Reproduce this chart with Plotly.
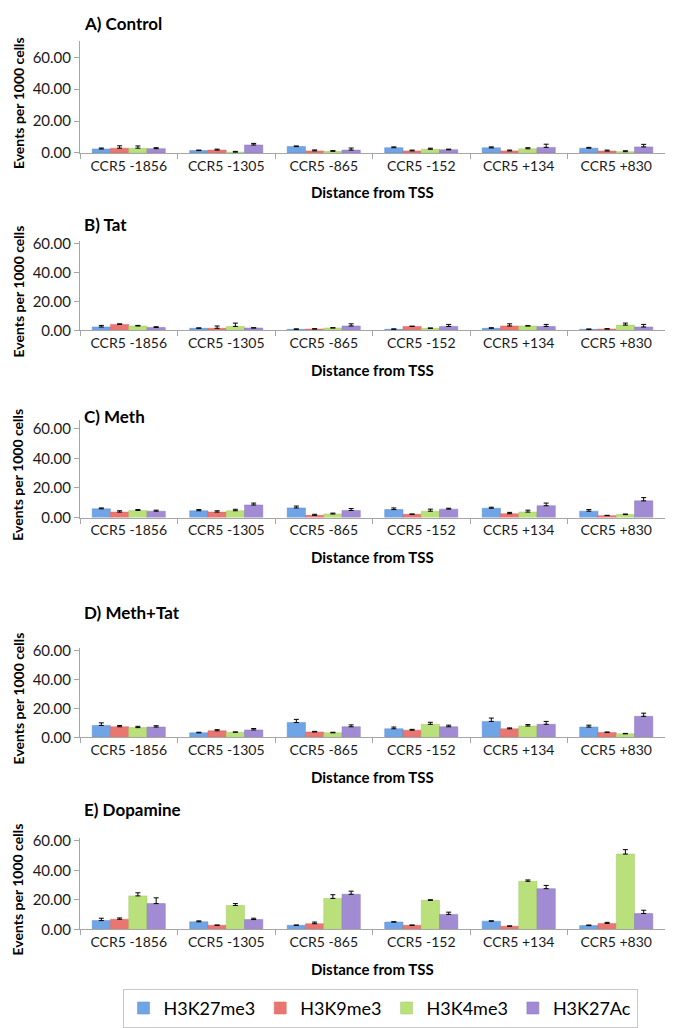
import plotly.graph_objects as go

W, H = 678, 1028

categories = ["CCR5 -1856", "CCR5 -1305", "CCR5 -865", "CCR5 -152", "CCR5 +134", "CCR5 +830"]
series_names = ["H3K27me3", "H3K9me3", "H3K4me3", "H3K27Ac"]
panel_titles = ["A) Control", "B) Tat", "C) Meth", "D) Meth+Tat", "E) Dopamine"]

# values per panel, per series (H3K27me3, H3K9me3, H3K4me3, H3K27Ac)
control_vals = [
    [2.5, 1.5, 4.0, 3.3, 3.2, 3.0],
    [3.0, 1.8, 1.3, 1.3, 1.3, 1.2],
    [3.0, 0.5, 1.0, 2.3, 2.6, 0.8],
    [2.7, 5.0, 1.8, 2.0, 3.5, 3.8],
]
control_err = [
    [0.6, 0.3, 0.4, 0.5, 0.6, 0.5],
    [1.5, 0.6, 0.6, 0.5, 0.5, 0.6],
    [1.4, 0.5, 0.5, 0.7, 0.7, 0.6],
    [0.6, 1.0, 1.3, 0.4, 2.0, 1.6],
]
tat_vals = [
    [2.3, 1.4, 0.7, 0.7, 1.4, 0.7],
    [4.1, 1.4, 0.9, 2.7, 3.0, 0.9],
    [3.0, 2.7, 1.6, 1.4, 3.0, 3.6],
    [2.0, 1.6, 3.0, 2.7, 2.7, 2.3],
]
tat_err = [
    [1.1, 0.3, 0.3, 0.3, 0.4, 0.2],
    [0.4, 1.6, 0.2, 0.2, 1.5, 0.2],
    [0.4, 2.3, 0.2, 0.2, 0.2, 1.4],
    [0.5, 0.2, 1.5, 1.4, 1.4, 1.8],
]
meth_vals = [
    [5.9, 4.6, 6.5, 5.4, 6.3, 4.3],
    [3.7, 3.7, 1.5, 2.2, 2.6, 1.3],
    [4.8, 4.6, 2.4, 4.3, 3.7, 2.0],
    [4.3, 8.5, 4.8, 5.7, 8.0, 11.3],
]
meth_err = [
    [0.6, 0.8, 1.3, 1.1, 0.7, 1.1],
    [0.9, 0.9, 0.7, 0.2, 0.9, 0.2],
    [0.6, 1.0, 0.6, 1.4, 1.3, 0.4],
    [0.7, 1.3, 1.3, 0.6, 1.8, 2.2],
]
methtat_vals = [
    [8.2, 3.1, 10.2, 5.9, 11.0, 7.1],
    [7.3, 4.5, 3.7, 4.9, 5.9, 3.3],
    [6.7, 3.5, 3.1, 9.0, 7.8, 2.4],
    [7.1, 5.1, 7.3, 7.3, 9.0, 14.5],
]
methtat_err = [
    [1.8, 0.4, 2.2, 1.2, 2.3, 1.3],
    [0.9, 0.8, 0.4, 0.6, 0.6, 0.4],
    [0.9, 0.2, 0.4, 1.4, 1.0, 0.3],
    [0.9, 1.0, 1.3, 1.1, 2.0, 2.2],
]
dopamine_vals = [
    [6.0, 5.2, 2.8, 5.0, 5.6, 2.6],
    [6.9, 2.8, 3.9, 2.8, 2.2, 4.1],
    [22.7, 16.2, 21.0, 19.7, 32.6, 51.0],
    [17.5, 6.7, 23.8, 10.2, 27.6, 10.8],
]
dopamine_err = [
    [1.6, 0.6, 0.2, 0.2, 0.2, 0.4],
    [0.9, 0.2, 1.1, 0.2, 0.2, 0.7],
    [2.1, 1.3, 2.5, 0.4, 0.9, 3.0],
    [3.9, 0.9, 2.1, 1.5, 2.2, 2.2],
]

panel_vals = [control_vals, tat_vals, meth_vals, methtat_vals, dopamine_vals]
panel_errs = [control_err, tat_err, meth_err, methtat_err, dopamine_err]

y_ticks = [0, 20, 40, 60]
y_tick_text = ["0.00", "20.00", "40.00", "60.00"]

colors = ["#6FA4E6", "#EA7671", "#BAE07C", "#A18CD3"]
line_colors = ["#5A8FD3", "#D86460", "#A3CB64", "#8C75C0"]

# layout geometry in pixels: (title_y, y_zero, y_sixty, y_max)
geom = [
    (9, 140, 43, 70),
    (213, 320, 232, 62),
    (407, 510, 420, 66),
    (606, 733, 645, 62),
    (806, 928, 838, 62),
]
x_left, x_right = 72, 657

FONT = "Lato"

fig = go.Figure()
layout = {}
annotations = []


def px_y(y):
    return 1 - y / H


def px_x(x):
    return x / W


for p in range(5):
    title_y, y0, y60, ymax = geom[p]
    ytop = y0 - (y0 - y60) * ymax / 60.0
    ax = "" if p == 0 else str(p + 1)
    for s in range(4):
        fig.add_trace(go.Bar(
            x=categories,
            y=panel_vals[p][s],
            name=series_names[s],
            marker=dict(color=colors[s], line=dict(color=line_colors[s], width=0.5)),
            error_y=dict(type="data", array=panel_errs[p][s], arrayminus=[0] * 6,
                         symmetric=False, color="#000000", thickness=1, width=2.5),
            xaxis="x" + ax, yaxis="y" + ax,
            showlegend=(p == 0),
            legendgroup=series_names[s],
        ))
    layout["xaxis" + ax] = dict(
        domain=[px_x(x_left), px_x(x_right)], anchor="y" + ax,
        showline=True, linecolor="#A6A6A6", linewidth=1,
        ticks="outside", tickson="boundaries", ticklen=5, tickcolor="#A6A6A6",
        tickfont=dict(family=FONT, size=14, color="#1a1a1a"),
        showgrid=False, zeroline=False, fixedrange=True,
    )
    layout["yaxis" + ax] = dict(
        domain=[px_y(y0), px_y(ytop)], anchor="x" + ax,
        range=[0, ymax],
        tickvals=y_ticks, ticktext=y_tick_text,
        showline=True, linecolor="#A6A6A6", linewidth=1,
        ticks="outside", ticklen=5, tickcolor="#A6A6A6",
        tickfont=dict(family=FONT, size=15, color="#1a1a1a"),
        showgrid=False, zeroline=False, fixedrange=True,
    )
    annotations.append(dict(
        text="<b>" + panel_titles[p] + "</b>", x=px_x(74), y=px_y(title_y),
        xref="paper", yref="paper", xanchor="left", yanchor="middle",
        showarrow=False, font=dict(family=FONT, size=17, color="#000000"),
    ))
    annotations.append(dict(
        text="<b>Events per 1000 cells</b>", x=px_x(10), y=px_y((y0 + ytop) / 2 + 6),
        xref="paper", yref="paper", xanchor="center", yanchor="middle",
        textangle=-90, showarrow=False,
        font=dict(family=FONT, size=14, color="#000000"),
    ))
    annotations.append(dict(
        text="<b>Distance from TSS</b>", x=px_x((x_left + x_right) / 2), y=px_y(y0 + 40),
        xref="paper", yref="paper", xanchor="center", yanchor="middle",
        showarrow=False, font=dict(family=FONT, size=15, color="#000000"),
    ))

fig.update_layout(
    width=W, height=H,
    margin=dict(l=0, r=0, t=0, b=0),
    paper_bgcolor="white", plot_bgcolor="white",
    barmode="group", bargap=0.25, bargroupgap=0,
    annotations=annotations,
    legend=dict(
        orientation="h", x=px_x(372), y=px_y(1008), xanchor="center", yanchor="middle",
        bordercolor="#C8C8C8", borderwidth=1, bgcolor="white",
        font=dict(family=FONT, size=18, color="#000000"),
        itemwidth=30, traceorder="normal",
    ),
    **layout,
)

fig.write_html("out.html")
